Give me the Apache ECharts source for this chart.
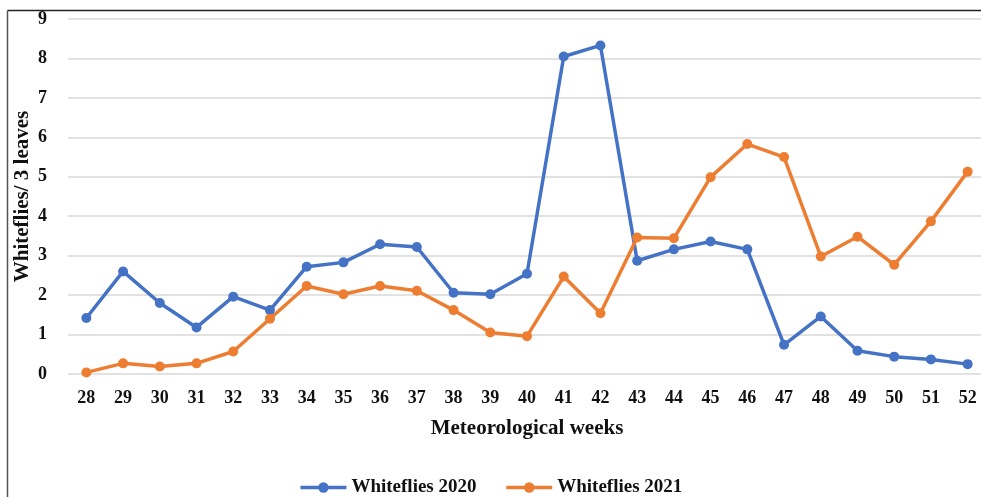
<!DOCTYPE html>
<html>
<head>
<meta charset="utf-8">
<script src="https://cdn.jsdelivr.net/npm/echarts@6/dist/echarts.min.js"></script>
<style>
  html, body { margin: 0; padding: 0; background: #fff; }
  #chart { width: 981px; height: 497px; }
</style>
</head>
<body>
<div id="chart"></div>
<script>
// Meteorological standard weeks
const weeks = ['28','29','30','31','32','33','34','35','36','37','38','39','40',
               '41','42','43','44','45','46','47','48','49','50','51','52'];
// Whitefly counts per 3 leaves
const whiteflies2020 = [1.42, 2.60, 1.80, 1.18, 1.96, 1.62, 2.72, 2.83, 3.29, 3.22, 2.06, 2.02, 2.54,
                        8.05, 8.33, 2.87, 3.16, 3.36, 3.16, 0.74, 1.46, 0.59, 0.44, 0.37, 0.25];
const whiteflies2021 = [0.04, 0.27, 0.19, 0.27, 0.57, 1.40, 2.23, 2.02, 2.23, 2.11, 1.62, 1.05, 0.96,
                        2.47, 1.54, 3.46, 3.44, 4.99, 5.83, 5.50, 2.98, 3.48, 2.77, 3.87, 5.13];
const yTicks = { min: 0, max: 9, interval: 1 };

const font = '"Liberation Serif", "Times New Roman", serif';
const chart = echarts.init(document.getElementById('chart'), null, { renderer: 'canvas' });

const lineSeries = (name, data, color) => ({
  name, type: 'line', data,
  symbol: 'circle', symbolSize: 10,
  lineStyle: { color, width: 3.5 },
  itemStyle: { color },
  emphasis: { disabled: true }
});

chart.setOption({
  animation: false,
  backgroundColor: '#fff',
  graphic: [
    { type: 'line', shape: { x1: 7.5, y1: 10.5, x2: 981, y2: 10.5 }, style: { stroke: '#222', lineWidth: 1.5 } },
    { type: 'line', shape: { x1: 7.5, y1: 10.5, x2: 7.5, y2: 497 }, style: { stroke: '#555', lineWidth: 1.5 } }
  ],
  grid: { left: 68, right: -5, top: 19, bottom: 123, containLabel: false, outerBoundsMode: 'none' },
  legend: {
    bottom: -5, left: 'center', itemGap: 28, itemWidth: 46, itemHeight: 13,
    lineStyle: { width: 3.5 },
    textStyle: { fontFamily: font, fontWeight: 'bold', fontSize: 19, color: '#111' },
    data: ['Whiteflies 2020', 'Whiteflies 2021']
  },
  xAxis: {
    type: 'category', data: weeks, boundaryGap: true,
    name: 'Meteorological weeks', nameLocation: 'middle', nameGap: 44, nameMoveOverlap: false,
    nameTextStyle: { fontFamily: font, fontWeight: 'bold', fontSize: 21, color: '#111' },
    axisLine: { show: false }, axisTick: { show: false },
    axisLabel: { fontFamily: font, fontWeight: 'bold', fontSize: 18, color: '#111', margin: 15 }
  },
  yAxis: {
    type: 'value', min: yTicks.min, max: yTicks.max, interval: yTicks.interval,
    name: 'Whiteflies/ 3 leaves', nameLocation: 'middle', nameGap: 35, nameRotate: 90, nameMoveOverlap: false,
    nameTextStyle: { fontFamily: font, fontWeight: 'bold', fontSize: 21, color: '#111' },
    axisLine: { show: false }, axisTick: { show: false },
    axisLabel: { fontFamily: font, fontWeight: 'bold', fontSize: 18, color: '#111', margin: 21 },
    splitLine: { lineStyle: { color: '#d9d9d9', width: 1.5 } }
  },
  series: [
    lineSeries('Whiteflies 2020', whiteflies2020, '#4472C4'),
    lineSeries('Whiteflies 2021', whiteflies2021, '#ED7D31')
  ]
});
</script>
</body>
</html>
